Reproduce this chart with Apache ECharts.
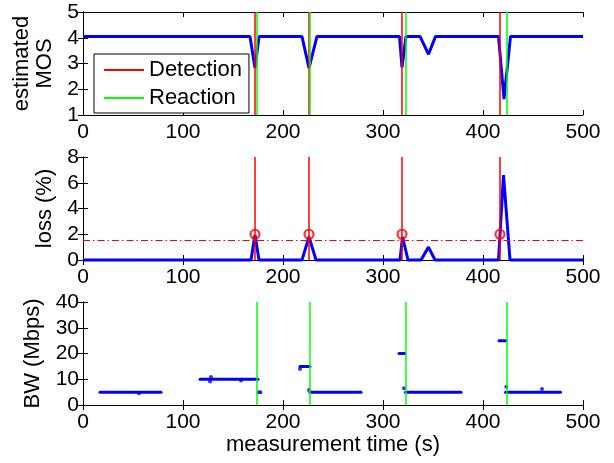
<!DOCTYPE html>
<html><head><meta charset="utf-8">
<script src="https://cdn.jsdelivr.net/npm/echarts@6/dist/echarts.min.js"></script>
<style>html,body{margin:0;padding:0;background:#fff}#c{width:614px;height:463px}</style>
</head><body><div id="c"></div>
<script>
// ---- data ----
const xTicks = [0, 100, 200, 300, 400, 500];
const mosTime  = [0, 167, 172, 176, 219, 226, 234, 316.5, 319, 323, 337, 345.5, 352.5, 415.5, 421, 427.5, 500];
const mosValue = [4.05, 4.05, 2.82, 4.05, 4.05, 2.82, 4.05, 4.05, 2.85, 4.05, 4.05, 3.36, 4.05, 4.05, 1.62, 4.05, 4.05];
const lossTime  = [0, 168, 172, 176, 219, 226, 233, 317, 319.5, 325, 338, 345.5, 352, 415.5, 420.5, 427, 500];
const lossValue = [0, 0, 1.94, 0, 0, 1.8, 0, 0, 1.8, 0, 0, 1, 0, 0, 6.6, 0, 0];
const detectionTimes = [172, 226, 319, 417];
const reactionTimes  = [174, 227, 323, 424];
const detectionLoss  = [2, 2, 2, 2];
const lossThreshold = 1.5;
const bwSegStart = [17, 117, 217, 227, 316, 322.5, 416, 422.5];
const bwSegEnd   = [78, 175, 227, 278, 322, 378, 423, 477.5];
const bwSegValue = [5, 10, 15, 5, 20, 5, 25, 5];
const bwPointTime  = [56, 127, 128, 158, 175.5, 177.5, 217, 226, 321, 423.3, 459];
const bwPointValue = [4.6, 9.1, 10.9, 9.5, 5, 5, 14, 5.8, 6.5, 7.1, 6.2];

const FONT = "'Liberation Sans', Arial, Helvetica, sans-serif";
const BLUE = '#0000ff', RED = '#ff0000', GREEN = '#00ff00';
const tops = [12, 157, 302];
const yCfg = [
  {min: 1, max: 5, interval: 1, name: 'estimated\nMOS', gap: 24},
  {min: 0, max: 8, interval: 2, name: 'loss (%)', gap: 23},
  {min: 0, max: 40, interval: 10, name: 'BW (Mbps)', gap: 37}
];
const grid = tops.map(t => ({left: 83, width: 500, top: t, height: 103}));
const axLine = {show: true, lineStyle: {color: '#000', width: 1}};
const tick = {show: true, inside: true, length: 5, lineStyle: {color: '#000', width: 1}};
const xAxis = [], yAxis = [];
tops.forEach((t, i) => {
  xAxis.push({type: 'value', gridIndex: i, min: xTicks[0], max: xTicks[xTicks.length - 1], interval: 100,
    position: 'bottom', axisLine: axLine, axisTick: tick, splitLine: {show: false},
    axisLabel: {fontFamily: FONT, fontSize: 21, color: '#000', margin: 7},
    name: i === 2 ? 'measurement time (s)' : '', nameLocation: 'middle', nameGap: 28,
    nameTextStyle: {fontFamily: FONT, fontSize: 22, color: '#000'}});
  xAxis.push({type: 'value', gridIndex: i, min: xTicks[0], max: xTicks[xTicks.length - 1], interval: 100,
    position: 'top', axisLine: axLine, axisTick: tick, splitLine: {show: false}, axisLabel: {show: false}});
  const c = yCfg[i];
  yAxis.push({type: 'value', gridIndex: i, min: c.min, max: c.max, interval: c.interval, position: 'left',
    axisLine: axLine, axisTick: tick, splitLine: {show: false},
    axisLabel: {fontFamily: FONT, fontSize: 21, color: '#000', margin: 4},
    name: c.name, nameLocation: 'middle', nameGap: c.gap,
    nameTextStyle: {fontFamily: FONT, fontSize: 22, color: '#000', lineHeight: 23}});
  yAxis.push({type: 'value', gridIndex: i, min: c.min, max: c.max, interval: c.interval, position: 'right',
    axisLine: axLine, axisTick: tick, splitLine: {show: false}, axisLabel: {show: false}});
});

function vLines(name, times, color, xi, yi, z) {
  return {name: name, type: 'line', xAxisIndex: xi, yAxisIndex: yi, data: [], symbol: 'none', z: z,
    lineStyle: {color: color, width: 1.5}, itemStyle: {color: color},
    markLine: {silent: true, symbol: 'none', label: {show: false}, animation: false,
      lineStyle: {color: color, width: 1.5, type: 'solid'},
      data: times.map(t => ({xAxis: t}))}};
}

const series = [
  vLines('Detection', detectionTimes, RED, 0, 0, 1),
  vLines('Reaction', reactionTimes, GREEN, 0, 0, 1),
  {name: 'MOS', type: 'line', xAxisIndex: 0, yAxisIndex: 0, symbol: 'none', z: 3,
    data: mosTime.map((t, k) => [t, mosValue[k]]), lineStyle: {color: BLUE, width: 3}},
  vLines('det2', detectionTimes, RED, 2, 2, 1),
  {name: 'thr', type: 'line', xAxisIndex: 2, yAxisIndex: 2, data: [], symbol: 'none',
    markLine: {silent: true, symbol: 'none', label: {show: false}, animation: false,
      lineStyle: {color: RED, width: 1, type: [7, 3, 1.5, 3]}, data: [{yAxis: lossThreshold}]}},
  {name: 'loss', type: 'line', xAxisIndex: 2, yAxisIndex: 2, symbol: 'none', z: 3, clip: false,
    data: lossTime.map((t, k) => [t, lossValue[k]]), lineStyle: {color: BLUE, width: 3}},
  {name: 'detpts', type: 'scatter', xAxisIndex: 2, yAxisIndex: 2, z: 4, symbol: 'circle', symbolSize: 9,
    data: detectionTimes.map((t, k) => [t, detectionLoss[k]]),
    itemStyle: {color: 'rgba(0,0,0,0)', borderColor: RED, borderWidth: 2.2}},
  vLines('react3', reactionTimes, GREEN, 4, 4, 1)
];
bwSegStart.forEach((s, k) => {
  series.push({name: 'bw' + k, type: 'line', xAxisIndex: 4, yAxisIndex: 4, symbol: 'none', z: 3,
    data: [[s, bwSegValue[k]], [bwSegEnd[k], bwSegValue[k]]],
    lineStyle: {color: BLUE, width: 3, cap: 'round'}});
});
series.push({name: 'bwpts', type: 'scatter', xAxisIndex: 4, yAxisIndex: 4, z: 3, symbolSize: 4,
  data: bwPointTime.map((t, k) => [t, bwPointValue[k]]), itemStyle: {color: BLUE}});

const chart = echarts.init(document.getElementById('c'), null, {renderer: 'canvas'});
chart.setOption({
  animation: false,
  backgroundColor: '#fff',
  grid: grid, xAxis: xAxis, yAxis: yAxis,
  legend: {data: ['Detection', 'Reaction'], orient: 'vertical', left: 94, top: 54,
    backgroundColor: '#fff', borderColor: '#000', borderWidth: 1, borderRadius: 0,
    padding: [5, 7, 4, 9], itemGap: 6, itemWidth: 40, itemHeight: 21, itemStyle: {opacity: 0},
    textStyle: {fontFamily: FONT, fontSize: 22, color: '#000'}, selectedMode: false, z: 10},
  series: series
});
</script></body></html>
